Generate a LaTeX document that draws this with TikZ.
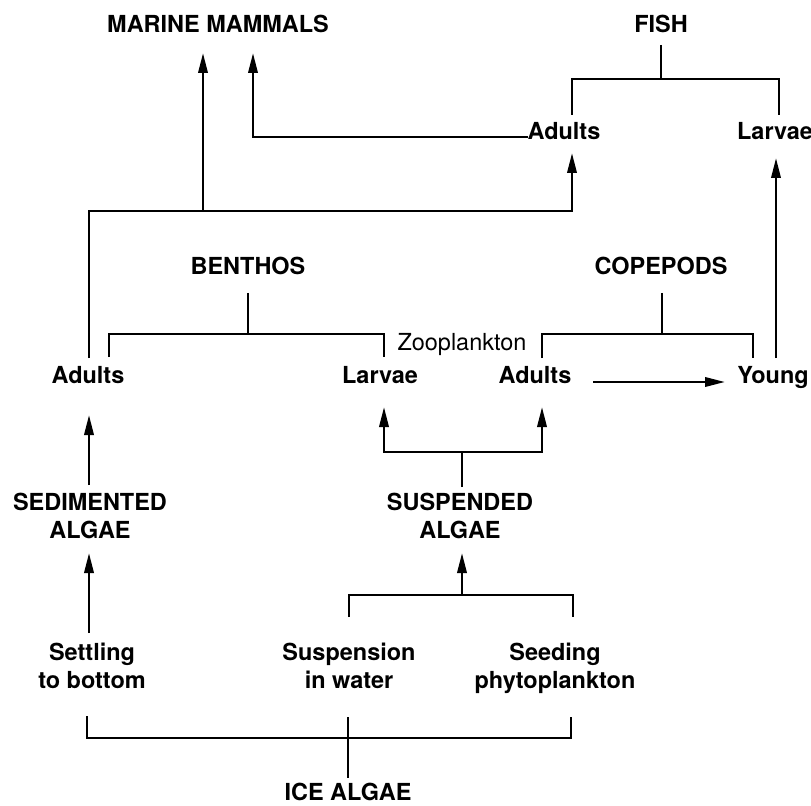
\documentclass[tikz,border=0pt]{standalone}
\usepackage{fontspec}
\setmainfont{TeX Gyre Heros}
\usetikzlibrary{arrows.meta}
\begin{document}
\begin{tikzpicture}[x=0.75pt,y=-0.75pt,
  lbl/.style={font=\fontsize{17.6}{21}\selectfont\bfseries, inner sep=0pt, align=center},
  reg/.style={font=\fontsize{17.6}{21}\selectfont, inner sep=0pt},
  ln/.style={line width=1.9pt},
  arr/.style={ln,-{Triangle[length=15pt,width=7pt]}}]
\useasboundingbox (0,0) rectangle (811,806);
% texts
\node[lbl,anchor=base] (mm) at (218,33) {MARINE MAMMALS};
\node[lbl,anchor=base] (fish) at (661,33) {FISH};
\node[lbl,anchor=base] (fadults) at (564,140) {Adults};
\node[lbl,anchor=base] (flarvae) at (775,140) {Larvae};
\node[lbl,anchor=base] (benthos) at (248,275) {BENTHOS};
\node[lbl,anchor=base] (copepods) at (661,275) {COPEPODS};
\node[reg,anchor=base] (zoo) at (462,350) {Zooplankton};
\node[lbl,anchor=base] (badults) at (88,383) {Adults};
\node[lbl,anchor=base] (blarvae) at (380,383) {Larvae};
\node[lbl,anchor=base] (cadults) at (535,383) {Adults};
\node[lbl,anchor=base] (young) at (773,383) {Young};
\node[lbl,anchor=north] (sed) at (90,493) {SEDIMENTED\\ALGAE};
\node[lbl,anchor=north] (susp) at (460,493) {SUSPENDED\\ALGAE};
\node[lbl,anchor=north] (settle) at (92,643) {Settling\\to bottom};
\node[lbl,anchor=north] (suspw) at (349,643) {Suspension\\in water};
\node[lbl,anchor=north] (seed) at (555,643) {Seeding\\phytoplankton};
\node[lbl,anchor=base] (ice) at (348,800) {ICE ALGAE};
% coordinates
\coordinate (fishTop) at (661,45);
\coordinate (fishJ) at (661,79);
\coordinate (fishL) at (572,115);
\coordinate (fishR) at (779,115);
\coordinate (mmTipA) at (203,53);
\coordinate (mmTipB) at (253,53);
\coordinate (mmJ) at (203,211);
\coordinate (fadW) at (528,137);
\coordinate (fadTip) at (572,153);
\coordinate (badTop) at (89,358);
\coordinate (flaTip) at (776,158);
\coordinate (flaBot) at (776,358);
\coordinate (benTop) at (248,293);
\coordinate (benJ) at (248,334);
\coordinate (benL) at (109,357);
\coordinate (benR) at (384,357);
\coordinate (copTop) at (662,293);
\coordinate (copJ) at (662,334);
\coordinate (copL) at (542,358);
\coordinate (copR) at (753,358);
\coordinate (cadE) at (593,382);
\coordinate (youW) at (725,382);
\coordinate (suspTop) at (462,487);
\coordinate (suspJ) at (462,452);
\coordinate (blaTip) at (384,407);
\coordinate (cadTip) at (542,407);
\coordinate (sedTop) at (89,485);
\coordinate (badTip) at (89,415);
\coordinate (setTop) at (89,633);
\coordinate (sedTip) at (89,553);
\coordinate (spJ) at (462,595);
\coordinate (suspTip) at (462,553);
\coordinate (swTop) at (349,617);
\coordinate (seTop) at (573,617);
\coordinate (setBot) at (87,716);
\coordinate (swBot) at (348,717);
\coordinate (seBot) at (571,717);
\coordinate (iceJ) at (348,738);
\coordinate (iceTop) at (348,778);
% fish bracket
\draw[ln] (fishTop) -- (fishJ);
\draw[ln] (fishL) |- (fishJ) -| (fishR);
% to marine mammals
\draw[arr] (mmJ) -- (mmTipA);
\draw[arr] (fadW) -| (mmTipB);
\draw[arr] (badTop) |- (mmJ) -| (fadTip);
\draw[arr] (flaBot) -- (flaTip);
% benthos bracket
\draw[ln] (benTop) -- (benJ);
\draw[ln] (benL) |- (benJ) -| (benR);
% copepods bracket
\draw[ln] (copTop) -- (copJ);
\draw[ln] (copL) |- (copJ) -| (copR);
% adults to young
\draw[arr] (cadE) -- (youW);
% suspended algae to larvae and adults
\draw[ln] (suspTop) -- (suspJ);
\draw[arr] (suspJ) -| (blaTip);
\draw[arr] (suspJ) -| (cadTip);
% sedimented algae to adults
\draw[arr] (sedTop) -- (badTip);
\draw[arr] (setTop) -- (sedTip);
% suspension / seeding to suspended algae
\draw[arr] (spJ) -- (suspTip);
\draw[ln] (swTop) |- (spJ) -| (seTop);
% ice algae bracket
\draw[ln] (setBot) |- (iceJ) -| (seBot);
\draw[ln] (swBot) -- (iceTop);
\end{tikzpicture}
\end{document}
